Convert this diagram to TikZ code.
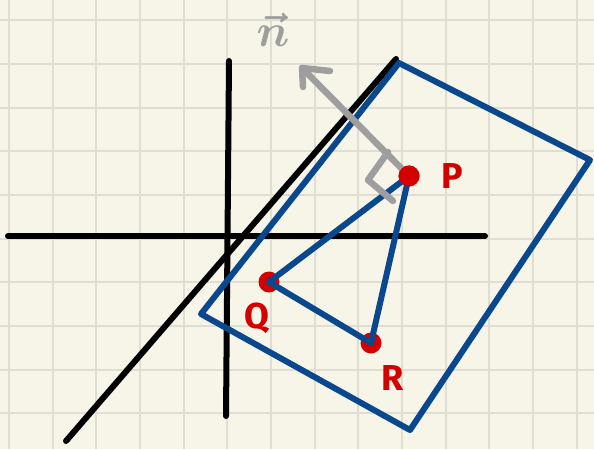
\documentclass[tikz,border=0pt]{standalone}
\usepackage{fontspec}
\setmainfont{Fira Sans}
\definecolor{paper}{RGB}{247,245,232}
\definecolor{gridc}{RGB}{224,222,210}
\definecolor{planeblue}{RGB}{10,72,142}
\definecolor{ptred}{RGB}{212,0,0}
\definecolor{normgray}{RGB}{158,158,158}
\begin{document}
\begin{tikzpicture}[x=1pt,y=-1pt,
  axis/.style={line width=6pt,black,line cap=round},
  bluel/.style={line width=6pt,planeblue,line cap=round,line join=round},
  grayl/.style={line width=6.5pt,normgray,line cap=round,line join=round},
  pt/.style={circle,fill=ptred,inner sep=0pt,minimum size=21pt},
  lab/.style={text=ptred,font=\bfseries\fontsize{36}{38}\selectfont,inner sep=0pt}]
\fill[paper] (0,0) rectangle (594,449);
\useasboundingbox (0,0) rectangle (594,449);
\foreach \i in {0,...,13} {
  \draw[gridc,line width=2pt] ({9+43.67*\i},0) -- ({9+43.67*\i},449);
}
\foreach \j in {0,...,10} {
  \draw[gridc,line width=2pt] (0,{20.3+43.67*\j}) -- (594,{20.3+43.67*\j});
}
% axes
\coordinate (xl) at (8,236);
\coordinate (xr) at (485,236);
\coordinate (yt) at (229,61);
\coordinate (yb) at (226,416);
\coordinate (dl) at (66,441);
\coordinate (dt) at (396,59);
\draw[axis] (xl) -- (xr);
\draw[axis] (yt) -- (yb);
\draw[axis] (dl) -- (dt);
% plane
\coordinate (c1) at (399,63);
\coordinate (c2) at (590,160);
\coordinate (c3) at (410,430);
\coordinate (c4) at (201,314);
\draw[bluel] (c1) -- (c2) -- (c3) -- (c4) -- cycle;
% points
\node[pt] (P) at (409,176) {};
\node[pt] (Q) at (269,282) {};
\node[pt] (R) at (371,343) {};
\draw[bluel] (P.center) -- (Q.center) -- (R.center) -- cycle;
% normal
\coordinate (tip) at (302,68);
\coordinate (h1) at (330,71);
\coordinate (h2) at (303,87);
\coordinate (m1) at (388,152);
\coordinate (m2) at (368,180);
\coordinate (m3) at (393,201);
\draw[grayl] (P.center) -- (tip);
\draw[grayl] (h1) -- (tip) -- (h2);
\draw[grayl] (m1) -- (m2) -- (m3);
\node[pt] at (P) {};
\node[text=normgray,inner sep=0pt,font=\boldmath,scale=4.6] (n) at (273,30) {$\vec{n}$};
\node[lab] (lP) at (452,176) {P};
\node[lab] (lQ) at (257,318) {Q};
\node[lab] (lR) at (393,378) {R};
\end{tikzpicture}
\end{document}
